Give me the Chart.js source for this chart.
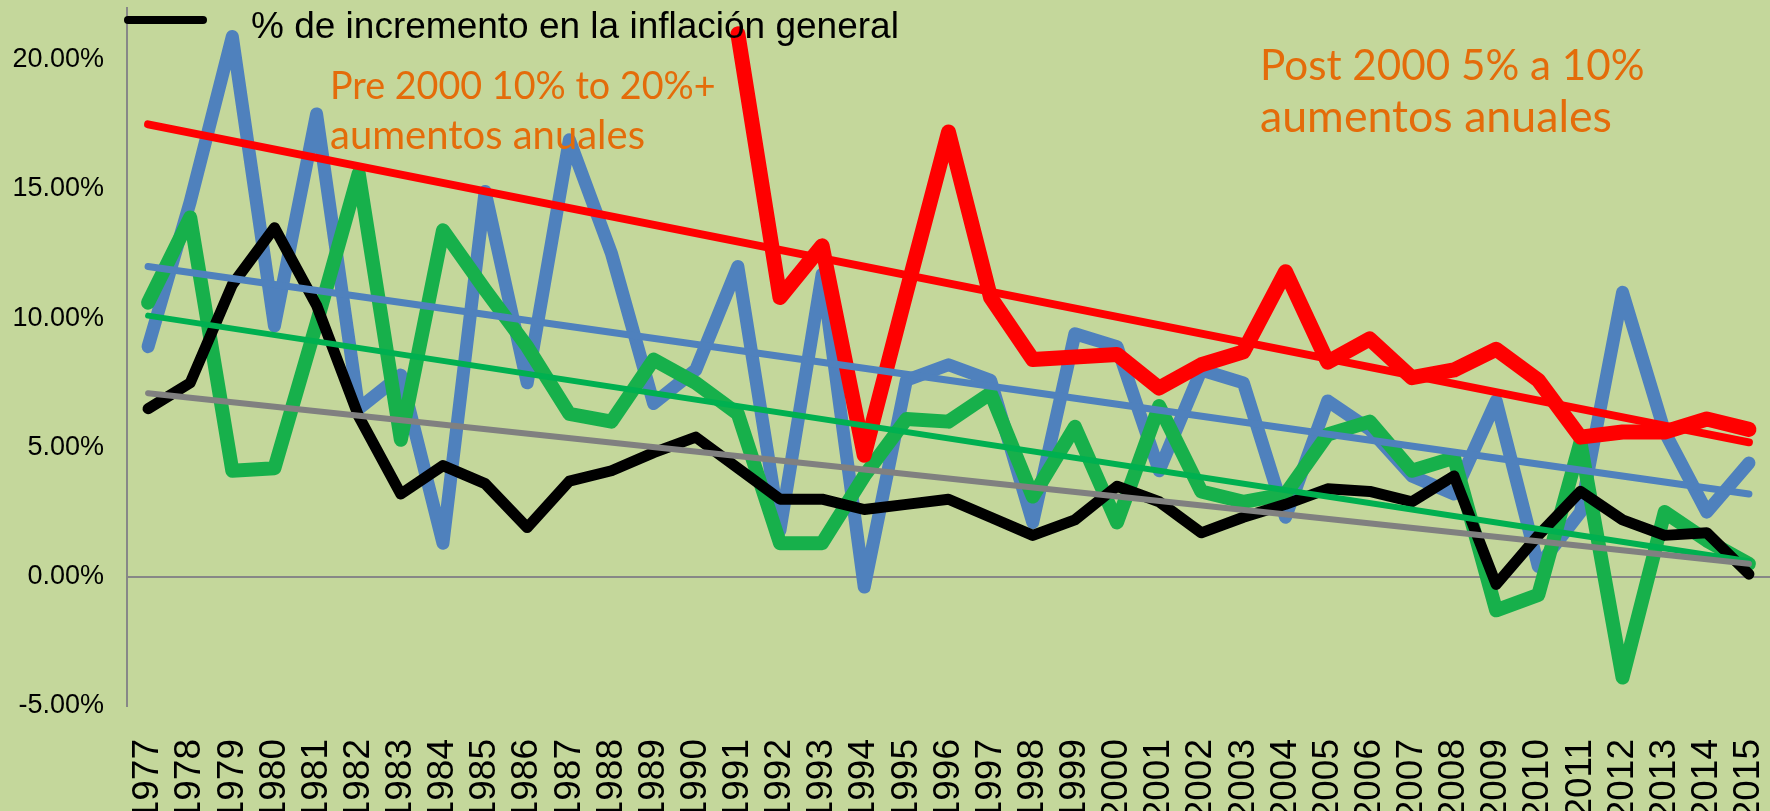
<!DOCTYPE html>
<html><head><meta charset="utf-8">
<style>html,body{margin:0;padding:0;background:#C4D79B;overflow:hidden}#wrap{width:1770px;height:811px;position:relative}</style>
<script src="https://cdn.jsdelivr.net/npm/chart.js@4.4.0/dist/chart.umd.min.js"></script>
</head><body><div id="wrap"><canvas id="c" width="1770" height="811"></canvas></div>
<script>
const years = ['1977','1978','1979','1980','1981','1982','1983','1984','1985','1986','1987','1988','1989','1990','1991','1992','1993','1994','1995','1996','1997','1998','1999','2000','2001','2002','2003','2004','2005','2006','2007','2008','2009','2010','2011','2012','2013','2014','2015'];
const blueValues = [8.9,14.5,20.9,9.7,17.9,6.5,7.8,1.3,14.9,7.5,16.9,12.5,6.7,8.0,12.0,1.8,11.7,-0.4,7.6,8.2,7.6,2.1,9.4,8.9,4.1,8.0,7.5,2.3,6.8,5.7,3.9,3.2,6.8,0.4,2.5,11.0,5.6,2.5,4.4];
const greenValues = [10.6,13.9,4.1,4.2,9.8,15.6,5.3,13.4,11.1,8.9,6.3,6.0,8.4,7.5,6.3,1.3,1.3,3.9,6.1,6.0,7.1,3.1,5.8,2.1,6.6,3.3,2.9,3.2,5.5,6.0,4.1,4.6,-1.3,-0.7,5.2,-3.9,2.5,1.4,0.5];
const redValues = [null,null,null,null,null,null,null,null,null,null,null,null,null,null,21.0,10.8,12.8,4.7,11.0,17.2,10.8,8.4,8.5,8.6,7.3,8.2,8.7,11.8,8.3,9.2,7.7,8.0,8.8,7.6,5.4,5.6,5.6,6.1,5.7];
const inflationValues = [6.5,7.5,11.3,13.5,10.5,6.2,3.2,4.3,3.6,1.9,3.7,4.1,4.8,5.4,4.2,3.0,3.0,2.6,2.8,3.0,2.3,1.6,2.2,3.5,2.9,1.7,2.3,2.8,3.4,3.3,2.9,3.9,-0.3,1.6,3.3,2.2,1.6,1.7,0.1];
const trendRedEnds = [17.5, 5.2];
const trendBlueEnds = [12.0, 3.2];
const trendGreenEnds = [10.1, 0.6];
const trendGrayEnds = [7.1, 0.5];
const yTicks = [-5,0,5,10,15,20];
const legendLabel = '% de incremento en la inflación general';
const notePre = ['Pre 2000 10% to 20%+','aumentos anuales'];
const notePost = ['Post 2000 5% a 10%','aumentos anuales'];

function trend(ends){ return [{x:years[0],y:ends[0]},{x:years[years.length-1],y:ends[1]}]; }
function series(data,color,width,order){
  return {data:data,borderColor:color,backgroundColor:color,borderWidth:width,pointRadius:0,pointHoverRadius:0,
    borderJoinStyle:'round',borderCapStyle:'round',tension:0,spanGaps:false,order:order,fill:false};
}

const bgPlugin = {id:'bg',beforeDraw(chart){const c=chart.ctx;c.save();c.fillStyle='#C4D79B';c.fillRect(0,0,chart.width,chart.height);c.restore();}};
function fitText(c,fam,text,x,y,w){
  c.font='40px '+fam;
  const s=40*w/c.measureText(text).width;
  c.font=s.toFixed(1)+'px '+fam;
  c.fillText(text,x,y);
}
const notesPlugin = {id:'notes',afterDraw(chart){
  const c=chart.ctx; c.save();
  c.strokeStyle='#000'; c.lineWidth=8; c.lineCap='round';
  c.beginPath(); c.moveTo(128,20); c.lineTo(203,20); c.stroke();
  c.fillStyle='#000'; c.font='37px "Liberation Sans", Arial, sans-serif'; c.textBaseline='alphabetic';
  c.fillText(legendLabel,251,38);
  c.fillStyle='#E46C0A';
  const fam='Lato, "Open Sans", sans-serif';
  fitText(c,fam,notePre[0],330,99,386);
  fitText(c,fam,notePre[1],330,149,315);
  fitText(c,fam,notePost[0],1260,80,385);
  fitText(c,fam,notePost[1],1260,132,352);
  c.restore();
}};

new Chart(document.getElementById('c'),{
  type:'line',
  data:{labels:years,datasets:[
    series(trend(trendGrayEnds),'#808080',6,0),
    series(trend(trendGreenEnds),'#00B050',6,1),
    series(trend(trendBlueEnds),'#4F81BD',7,2),
    series(trend(trendRedEnds),'#FF0000',8,3),
    series(inflationValues,'#000000',11,4),
    series(redValues,'#FF0000',15,5),
    series(greenValues,'#17B04B',14,6),
    series(blueValues,'#4F81BD',13,7)
  ]},
  options:{
    responsive:false,animation:false,devicePixelRatio:1,
    layout:{padding:{left:0,right:0,top:8,bottom:0}},
    plugins:{legend:{display:false},tooltip:{enabled:false}},
    scales:{
      x:{type:'category',offset:true,
        grid:{display:false},border:{display:false},
        afterFit(scale){scale.height=105;scale.paddingLeft=0;scale.paddingRight=0;},
        ticks:{autoSkip:false,minRotation:90,maxRotation:90,padding:25,color:'#000',
          font:{family:'"Liberation Sans", Arial, sans-serif',size:37}}},
      y:{min:-5,max:22,
        afterBuildTicks(scale){scale.ticks=yTicks.map(v=>({value:v}));},
        afterFit(scale){scale.width=127;scale.paddingTop=0;scale.paddingBottom=0;},
        grid:{drawTicks:false,lineWidth:2,color:(ctx)=>ctx.tick&&ctx.tick.value===0?'#878787':'rgba(0,0,0,0)'},
        border:{display:true,color:'#878787',width:2},
        ticks:{padding:23,color:'#000',callback:(v)=>Number(v).toFixed(2)+'%',
          font:{family:'"Liberation Sans", Arial, sans-serif',size:27}}}
    }
  },
  plugins:[bgPlugin,notesPlugin]
});
</script></body></html>
